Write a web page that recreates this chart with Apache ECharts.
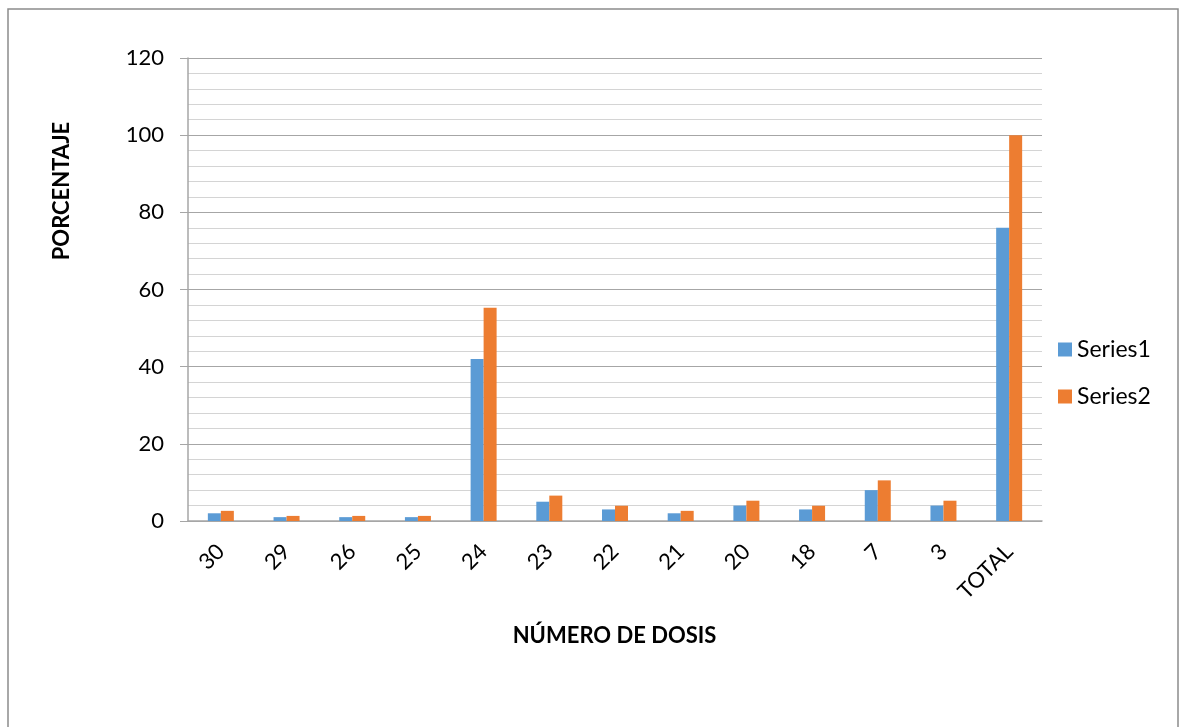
<!DOCTYPE html>
<html>
<head>
<meta charset="utf-8">
<script src="https://cdn.jsdelivr.net/npm/echarts@6/dist/echarts.min.js"></script>
<style>
  html, body { margin: 0; padding: 0; background: #fff; }
  #chart { width: 1181px; height: 727px; }
</style>
</head>
<body>
<div id="chart"></div>
<script>
// Dose counts and their share of the total
const categories = ['30', '29', '26', '25', '24', '23', '22', '21', '20', '18', '7', '3', 'TOTAL'];
const series1 = [2, 1, 1, 1, 42, 5, 3, 2, 4, 3, 8, 4, 76];
const series2 = [2.63, 1.32, 1.32, 1.32, 55.26, 6.58, 3.95, 2.63, 5.26, 3.95, 10.53, 5.26, 100];
const yTicks = { min: 0, max: 120, interval: 20 };

const FONT = 'Lato, "Open Sans", sans-serif';
const chart = echarts.init(document.getElementById('chart'));

chart.setOption({
  backgroundColor: '#ffffff',
  animation: false,
  textStyle: { fontFamily: FONT },
  grid: { left: 188, right: 139, top: 58, bottom: 206 },
  legend: {
    orient: 'vertical',
    left: 1053,
    top: 333,
    itemWidth: 14,
    itemHeight: 14,
    itemGap: 24,
    icon: 'rect',
    textStyle: { fontSize: 23, color: '#000', fontFamily: FONT },
    data: ['Series1', 'Series2']
  },
  xAxis: {
    type: 'category',
    data: categories,
    axisLine: { lineStyle: { color: '#a6a6a6', width: 1.5 } },
    axisTick: { show: false },
    axisLabel: { rotate: 45, fontSize: 22, color: '#000', margin: 27, fontFamily: FONT },
    name: 'NÚMERO DE DOSIS',
    nameLocation: 'middle',
    nameGap: 104,
    nameTextStyle: { fontSize: 22, fontWeight: 'bold', color: '#000', fontFamily: FONT, padding: [0, 0, 0, -1] }
  },
  yAxis: {
    type: 'value',
    min: yTicks.min,
    max: yTicks.max,
    interval: yTicks.interval,
    axisLine: { show: true, lineStyle: { color: '#a6a6a6', width: 1.5 } },
    axisTick: { show: true, length: 8, lineStyle: { color: '#a6a6a6' } },
    axisLabel: { fontSize: 22, color: '#000', margin: 24, fontFamily: FONT },
    splitLine: { lineStyle: { color: '#a6a6a6', width: 1.2 } },
    minorTick: { show: false, splitNumber: 5 },
    minorSplitLine: { show: true, lineStyle: { color: '#d4d4d4', width: 1.2 } }
  },
  graphic: [
    {
      type: 'rect',
      shape: { x: 8, y: 9, width: 1170, height: 760 },
      style: { fill: 'none', stroke: '#8c8c8c', lineWidth: 1.5 },
      silent: true
    },
    {
      type: 'text',
      x: 62,
      y: 191,
      rotation: Math.PI / 2,
      style: {
        text: 'PORCENTAJE',
        fontSize: 22,
        fontWeight: 'bold',
        fill: '#000',
        fontFamily: FONT,
        align: 'center',
        verticalAlign: 'middle'
      }
    }
  ],
  series: [
    {
      name: 'Series1',
      type: 'bar',
      data: series1,
      barWidth: 13,
      barGap: '0%',
      itemStyle: { color: '#5b9bd5' }
    },
    {
      name: 'Series2',
      type: 'bar',
      data: series2,
      barWidth: 13,
      barGap: '0%',
      itemStyle: { color: '#ed7d31' }
    }
  ]
});
</script>
</body>
</html>
